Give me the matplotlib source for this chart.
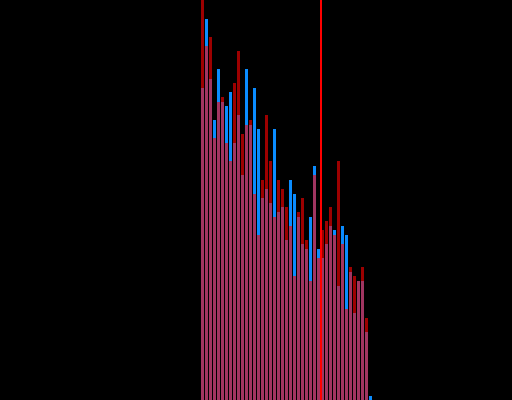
import matplotlib
matplotlib.use("Agg")
import matplotlib.pyplot as plt
import numpy as np

# bin index (category) and two series of bar heights (arbitrary count units)
bins = list(range(43))
blue_vals = [312, 381, 321, 280, 331, 298, 294, 308, 257, 285, 225,
             331, 275, 312, 271, 202, 211, 197, 271, 188, 193, 160,
             220, 206, 183, 156, 151, 183, 234, 151, 142, 156, 174,
             170, 114, 174, 165, 128, 87, 119, 119, 68, 4]
red_vals = [420, 354, 363, 262, 298, 303, 257, 239, 317, 349, 266,
            275, 280, 206, 165, 220, 285, 239, 183, 220, 211, 193,
            174, 124, 188, 202, 160, 119, 225, 142, 170, 179, 193,
            165, 239, 156, 91, 133, 124, 119, 133, 82, 0]
marker_pos = 29.625

fig = plt.figure(figsize=(5.12, 4.0), dpi=100, facecolor="black")
ax = fig.add_axes([0, 0, 1, 1])
ax.set_facecolor("black")
ax.bar(bins, blue_vals, width=0.75, color="#0a8cff", linewidth=0)
ax.bar(bins, red_vals, width=0.75, color="#ff0000", alpha=0.62, linewidth=0)
ax.axvline(marker_pos, color="#ff0000", linewidth=1.44)
ax.set_xlim(-50.625, 77.375)
ax.set_ylim(0, 400)
ax.axis("off")
fig.savefig("out.png", dpi=100, facecolor="black")
